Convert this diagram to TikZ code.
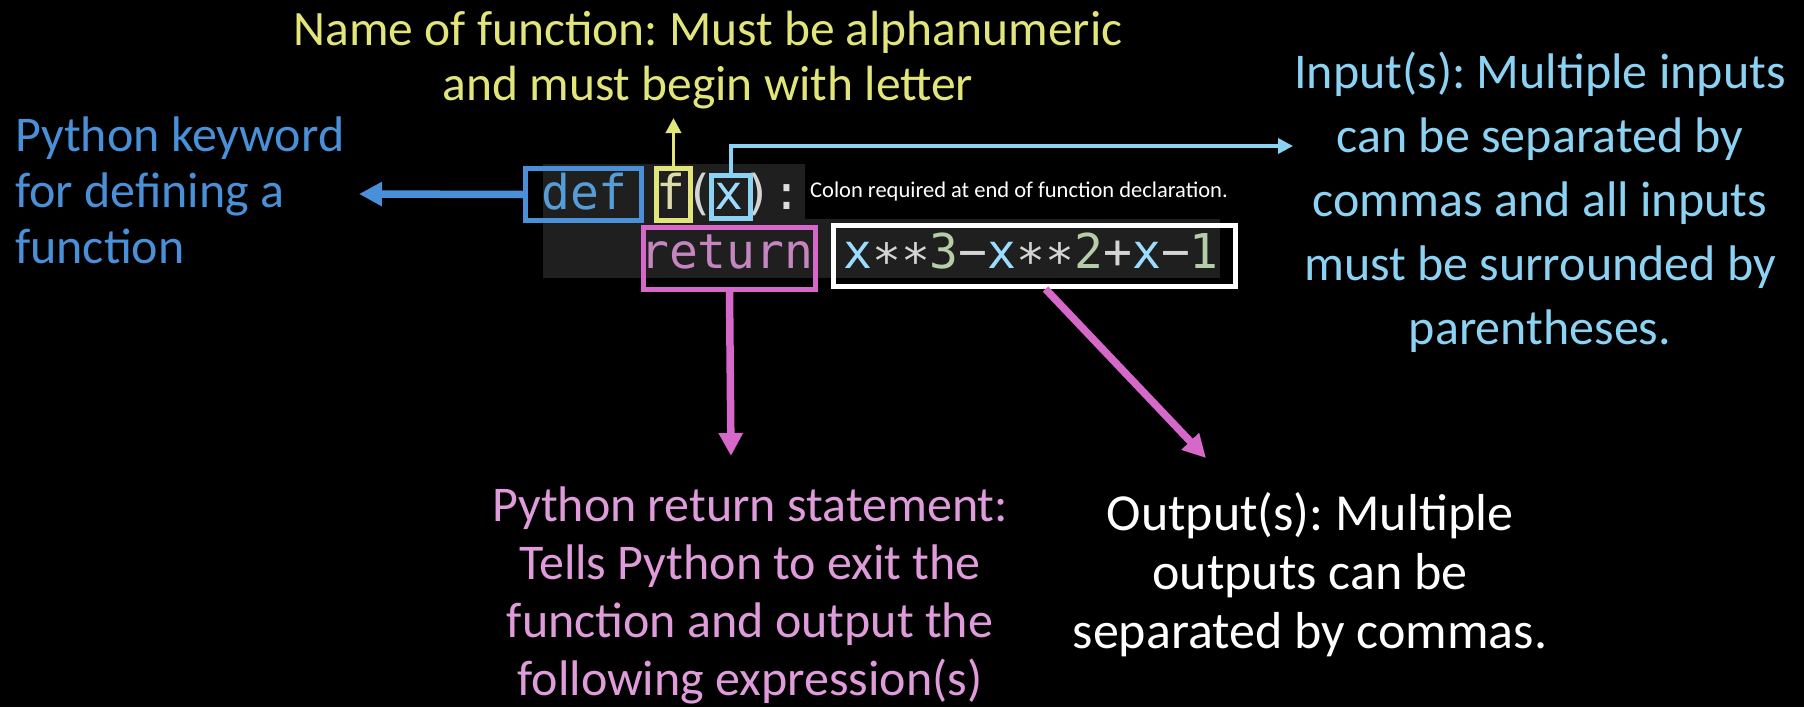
\documentclass[tikz,border=0pt]{standalone}
\usepackage{fontspec}
\usepackage{xcolor}
\usetikzlibrary{arrows.meta,positioning}
\newfontfamily\pycode{DejaVu Sans Mono}
\newfontfamily\slidefont{Carlito}
\frenchspacing
\definecolor{pyKey}{HTML}{4A90D9}
\definecolor{pyName}{HTML}{E2E67A}
\definecolor{pyArg}{HTML}{8BD2F3}
\definecolor{pyRet}{HTML}{D568C9}
\definecolor{pyRetText}{HTML}{E09BDA}
\definecolor{pyBg}{HTML}{1F1F1F}
\definecolor{pyDef}{HTML}{569CD6}
\definecolor{pyFn}{HTML}{DCDCAA}
\definecolor{pyVar}{HTML}{9CDCFE}
\definecolor{pyNum}{HTML}{B5CEA8}
\definecolor{pyOp}{HTML}{D4D4D4}
\definecolor{pyKw}{HTML}{C586C0}
\newcommand\pystar{\textcolor{pyOp}{∗∗}}
\newcommand\pyminus{\textcolor{pyOp}{−}}
\tikzset{
  py slide/.style={x=1pt, y=-1pt},
  py label/.style={align=center, inner sep=0pt, anchor=base},
  py token/.style={inner sep=0pt, anchor=base west,
    font=\pycode\fontsize{48}{48}\selectfont},
  py box/.style={draw=#1, line width=5pt, inner sep=0pt},
  py arrow/.style={-{Triangle[length=23pt,width=23pt]}, draw=#1, line width=7.5pt},
  py small arrow/.style={-{Triangle[length=15pt,width=15pt]}, draw=#1, line width=3.5pt}
}

\begin{document}
\begin{tikzpicture}[py slide]
\useasboundingbox (0,0) rectangle (1804,707);
\fill[black] (0,0) rectangle (1804,707);
% editor background
\fill[pyBg] (543,164) rectangle (805,219);
\fill[pyBg] (543,219) rectangle (1220,278);
% code
\node[py token] (sig) at (541,209) {\textcolor{pyDef}{def} \textcolor{pyFn}{f}\textcolor{pyOp}{(}\textcolor{pyVar}{x}\textcolor{pyOp}{)}\textcolor{pyOp!80}{:}};
\node[py token] (kwret) at (640,268) {\textcolor{pyKw}{return}};
\node[py token] (expr) at (843,268) {\textcolor{pyVar}{x}\pystar\textcolor{pyNum}{3}\pyminus\textcolor{pyVar}{x}\pystar\textcolor{pyNum}{2}\textcolor{pyOp}{+}\textcolor{pyVar}{x}\pyminus\textcolor{pyNum}{1}};
% highlight boxes
\foreach \nm/\cl/\cx/\cy/\w/\h in {defbox/pyKey/583.5/194.5/116/52,
    fbox/pyName/673.5/194.5/34/52, argbox/pyArg/731/197/39/43,
    retbox/pyRet/729.5/258.5/172/62, exprbox/white/1034.5/256/402/61}
  \node[py box=\cl, minimum width=\w pt, minimum height=\h pt] (\nm) at (\cx,\cy) {};
% notes (base anchor sits on the last line)
\node[py label, anchor=base west, align=left, text=pyKey,
  font=\slidefont\fontsize{50}{56}\selectfont] (kwnote) at (15,263)
  {Python keyword\\for defining a\\function};
\node[py label, text=pyName, font=\slidefont\fontsize{49.5}{55}\selectfont]
  (namenote) at (708,100) {Name of function: Must be alphanumeric\\and must begin with letter};
\node[py label, text=pyArg, font=\slidefont\fontsize{50}{64}\selectfont]
  (argnote) at (1540,344) {Input(s): Multiple inputs\\can be separated by\\commas and all inputs\\must be surrounded by\\parentheses.};
\node[py label, text=pyRetText, font=\slidefont\fontsize{50}{58}\selectfont]
  (retnote) at (750,695) {Python return statement:\\Tells Python to exit the\\function and output the\\following expression(s)};
\node[py label, text=white, font=\slidefont\fontsize{52}{59}\selectfont]
  (outnote) at (1310,648) {Output(s): Multiple\\outputs can be\\separated by commas.};
\node[py label, anchor=base west, text=white, font=\slidefont\fontsize{22.5}{26}\selectfont]
  (colonnote) at (810,197) {Colon required at end of function declaration.};
% arrows
\coordinate (kwtip) at (359,194);
\coordinate (nametip) at (673.5,118);
\coordinate (argtip) at (1293,146);
\coordinate (rettip) at (731,456);
\coordinate (outtip) at (1206,458);
\draw[py arrow=pyKey] (defbox.west) -- (kwtip);
\draw[py small arrow=pyName] (fbox.north) -- (nametip);
\draw[py small arrow=pyArg] (argbox.north) |- (argtip);
\draw[py arrow=pyRet] (retbox.south) -- (rettip);
\draw[py arrow=pyRet] ([xshift=11pt]exprbox.south) -- (outtip);
\end{tikzpicture}
\end{document}
